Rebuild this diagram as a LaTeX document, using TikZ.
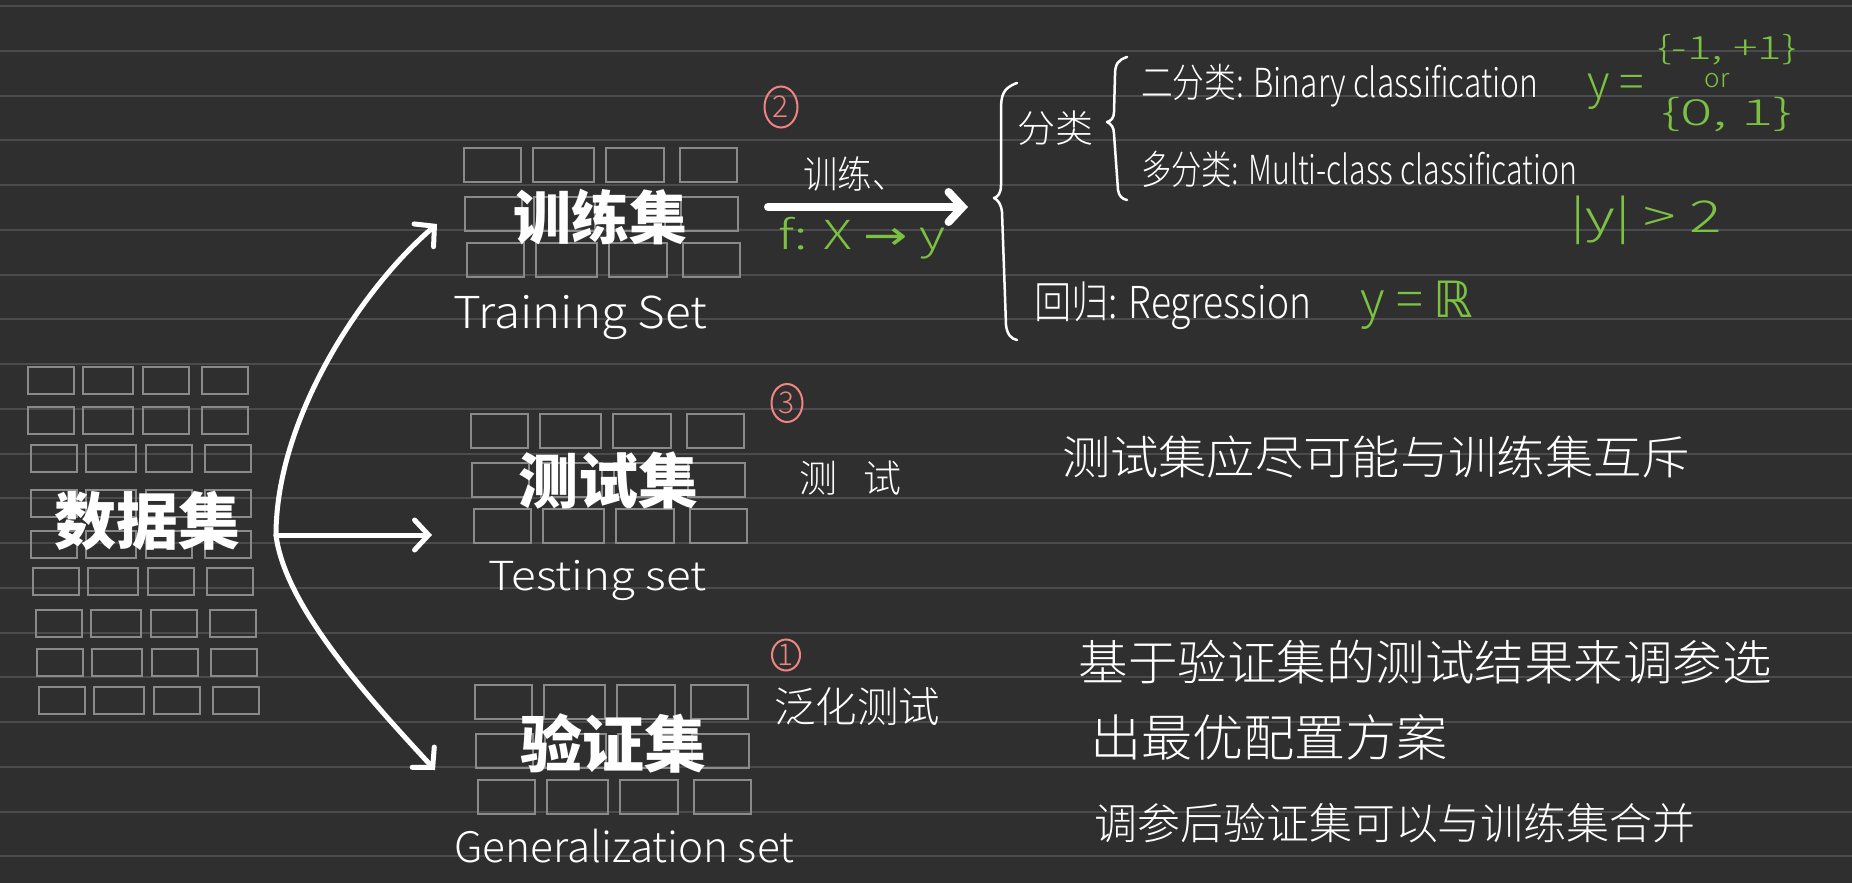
\documentclass[tikz,border=0pt]{standalone}
\usepackage{fontspec}
\setmainfont{Noto Sans CJK SC}
\newfontfamily\thin{Noto Sans CJK SC Light}
\newfontfamily\djv{DejaVu Sans}
\usetikzlibrary{arrows.meta,shapes.geometric}
\definecolor{bgc}{HTML}{2F2F2F}
\definecolor{rulec}{HTML}{4B4B4F}
\definecolor{boxc}{HTML}{8A8A8A}
\definecolor{hgreen}{HTML}{7BC142}
\definecolor{hred}{HTML}{F08482}
\newcommand{\fitw}[2]{\resizebox{#1}{\height}{#2}}
\newcommand{\fs}[1]{\fontsize{#1}{#1}\selectfont}
\begin{document}
\begin{tikzpicture}[x=1pt,y=-1pt,
  ruled/.style={draw=rulec, line width=2pt},
  cell/.style={draw=boxc, line width=2.2pt},
  title/.style={text=white, font=\bfseries\fs{60}, inner sep=0pt},
  hand/.style={text=white, inner sep=0pt},
  mathg/.style={text=hgreen, inner sep=0pt},
  bigarrow/.style={draw=white, line width=5pt, line cap=round, line join=round, -{Straight Barb[length=14pt,width=30pt,line cap=round]}},
  num/.style={draw=hred, text=hred, ellipse, line width=2pt, inner sep=0pt, font=\thin\fs{30}},
  brace/.style={draw=white, line width=2.5pt, line cap=round, line join=round},
  setgrid/.pic={
    \foreach \dx/\dy in {0/0, 1/49, 3/95} {
      \foreach \cx/\w in {0/57, 69/61, 142/58, 216/57} {
        \draw[cell] (\cx+\dx,\dy) rectangle ++(\w,34);
      }
    }
  }
]
\useasboundingbox (0,0) rectangle (1852,883);
\fill[bgc] (0,0) rectangle (1852,883);
\foreach \k in {0,...,19} \draw[ruled] (0,{6+44.75*\k}) -- (1852,{6+44.75*\k});

% dataset grid
\foreach \dy/\dx in {367/0, 407/0, 445/3, 490/3, 531/3, 568/5, 610/8, 649/9, 687/11} {
  \foreach \cx/\w in {28/46, 83/50, 143/46, 202/46} {
    \draw[cell] (\cx+\dx,\dy) rectangle ++(\w,27);
  }
}
\node[title, font=\bfseries\fs{62}] (data) at (147,521) {数据集};

% set grids
\pic at (464,148) {setgrid};
\pic at (471,414) {setgrid};
\pic at (475,685) {setgrid};

\node[title, font=\bfseries\fs{58}] (train) at (600,217) {训练集};
\node[title] (test) at (608,481) {测试集};
\node[title, font=\bfseries\fs{62}] (val) at (613,743) {验证集};

\node[hand, anchor=base west, font=\thin\fs{44}] (trainEn) at (453,328) {\fitw{254pt}{Training Set}};
\node[hand, anchor=base west, font=\thin\fs{40}] (testEn) at (488,590) {\fitw{218pt}{Testing set}};
\node[hand, anchor=base west, font=\thin\fs{42}] (valEn) at (454,862) {\fitw{340pt}{Generalization set}};

% arrows from dataset
\coordinate (hub) at (276,535);
\coordinate (trainIn) at (437,224);
\coordinate (testIn) at (432,535);
\coordinate (valIn) at (435,770);
\draw[bigarrow] (hub) .. controls (276,420) and (360,290) .. (trainIn);
\draw[bigarrow] (hub) -- (testIn);
\draw[bigarrow] (hub) .. controls (285,610) and (380,710) .. (valIn);

% numbered marks
\node[num, minimum width=33pt, minimum height=41pt] (n2) at (781,107) {2};
\node[num, minimum width=31pt, minimum height=38pt] (n3) at (787,403) {3};
\node[num, minimum width=28pt, minimum height=31pt] (n1) at (786,655) {1};

% training arrow
\coordinate (trS) at (768,207);
\coordinate (trE) at (968,207);
\draw[bigarrow, line width=8pt] (trS) -- (trE);
\node[hand, font=\thin\fs{38}] (xunlian) at (855,174) {\fitw{103pt}{训练、}};
\node[mathg, font=\thin\fs{40}] (fxy) at (862,238) {\fitw{167pt}{f: X {\djv →} y}};

% testing / validation notes
\node[hand, font=\thin\fs{38}] (ceshi) at (850,478) {测\hspace{26pt}试};
\node[hand, font=\thin\fs{42}] (fanhua) at (857,707) {\fitw{166pt}{泛化测试}};

% braces
\draw[brace] (1017,83) .. controls (1003,88) and (1001,95) .. (1001,110) -- (1001,185)
  .. controls (1001,193) and (998,197) .. (994,198)
  .. controls (998,200) and (1001,204) .. (1002,212) -- (1006,325)
  .. controls (1007,334) and (1011,339) .. (1017,340);
\draw[brace] (1127,57) .. controls (1118,60) and (1115,64) .. (1115,75) -- (1114,112)
  .. controls (1114,118) and (1111,121) .. (1107,122)
  .. controls (1111,124) and (1114,127) .. (1114,134) -- (1118,190)
  .. controls (1119,196) and (1122,199) .. (1127,200);

\node[hand, font=\thin\fs{38}] (fenlei) at (1055,128) {分类};
\node[hand, anchor=base west, font=\thin\fs{40}] (bin) at (1141,97) {\fitw{397pt}{二分类: Binary classification}};
\node[hand, anchor=base west, font=\thin\fs{40}] (multi) at (1141,184) {\fitw{436pt}{多分类: Multi-class classification}};
\node[hand, anchor=base west, font=\thin\fs{44}] (reg) at (1034,318) {\fitw{277pt}{回归: Regression}};

% green labels
\node[mathg, anchor=west, font=\thin\fs{46}] (yeq) at (1587,92) {\fitw{57pt}{y =}};
\node[mathg, font=\thin\fs{32}] (setA) at (1727,50) {\fitw{139pt}{\{-1, +1\}}};
\node[mathg, font=\thin\fs{26}] (orw) at (1717,81) {or};
\node[mathg, font=\thin\fs{36}] (setB) at (1727,115) {\fitw{131pt}{\{0, 1\}}};
\node[mathg, font=\thin\fs{44}] (card) at (1646,220) {\fitw{152pt}{|y| > 2}};
\node[mathg, font=\thin\fs{50}] (yR) at (1417,305) {\fitw{113pt}{y = {\djv ℝ}}};

% right notes
\node[hand, font=\thin\fs{46}] (note1) at (1376,457) {\fitw{628pt}{测试集应尽可能与训练集互斥}};
\node[hand, font=\thin\fs{48}] (note2) at (1425,662) {\fitw{693pt}{基于验证集的测试结果来调参选}};
\node[hand, font=\thin\fs{50}] (note3) at (1269,737) {\fitw{358pt}{出最优配置方案}};
\node[hand, font=\thin\fs{43}] (note4) at (1395,823) {\fitw{601pt}{调参后验证集可以与训练集合并}};
\end{tikzpicture}
\end{document}
